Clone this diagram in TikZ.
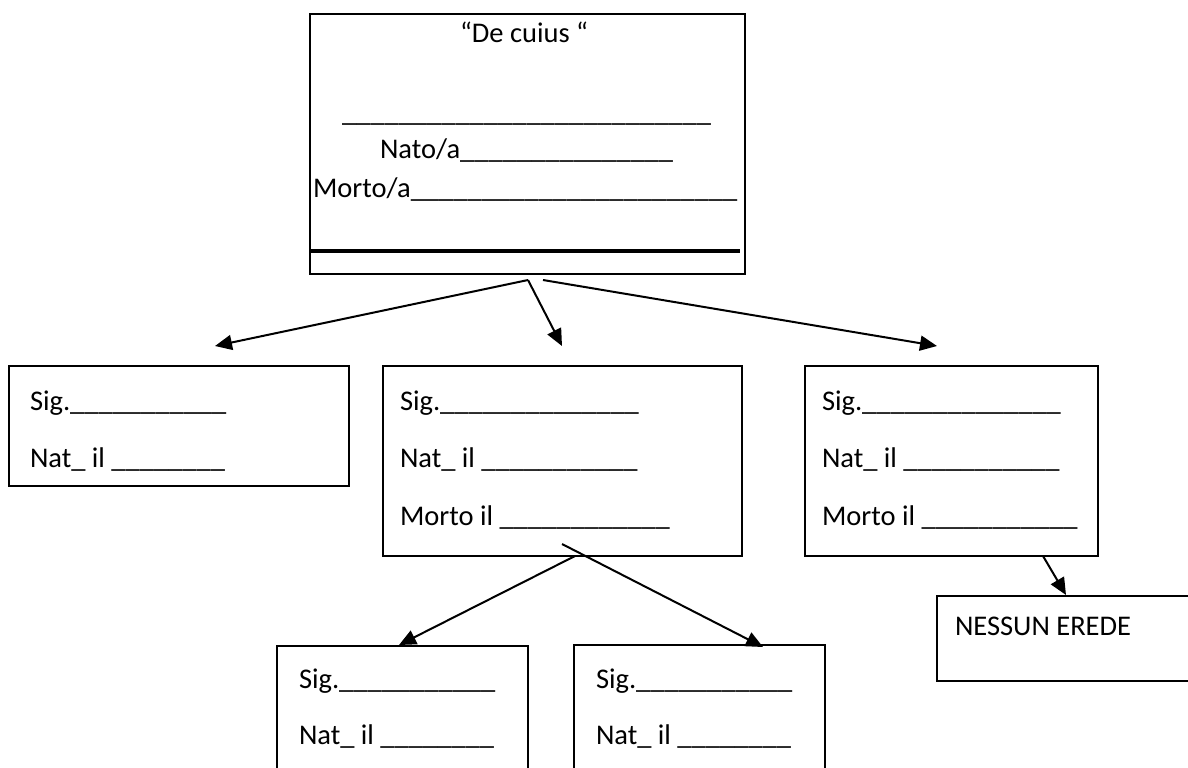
\documentclass[tikz,border=0pt]{standalone}
\usepackage{fontspec}
\setmainfont{Carlito}
\usetikzlibrary{arrows.meta}
\newcommand{\riga}[1]{\foreach \k in {1,...,#1}{\_}}

\begin{document}
\begin{tikzpicture}[x=0.5pt,y=-0.5pt]
	\tikzstyle{box}=[draw, line width=1.2pt, inner sep=0pt, outer sep=0pt, anchor=north west]
	\tikzstyle{txt}=[inner sep=0pt, outer sep=0pt, anchor=base west, font=\fontsize{14.25pt}{17pt}\selectfont]
	\tikzstyle{freccia}=[-{Triangle[length=8.5pt,width=7.5pt]}, line width=1pt]
	\useasboundingbox (0,0) rectangle (1188,767);
	\clip (0,0) rectangle (1188,767);
	\node[box, minimum width=217.5pt, minimum height=130pt] (decuius) at (310,14) {};
	\draw[line width=2pt] ([yshift=-118.5pt]decuius.north west) -- ([xshift=-2.5pt,yshift=-118.5pt]decuius.north east);
	\node[txt] (titolo) at (460,42) {“De cuius “};
	\node[txt] (nome) at (342,121) {\riga{26}};
	\node[txt] (nato) at (380,158) {Nato/a\riga{15}};
	\node[txt] (morto) at (313,197) {Morto/a\riga{23}};
	\node[box, minimum width=170pt, minimum height=60pt] (figlio1) at (9,366) {};
	\node[txt] (sig1) at (30,410) {Sig.\riga{11}};
	\node[txt] (nat1) at (30,467) {Nat\_ il \riga{8}};
	\node[box, minimum width=179.5pt, minimum height=95pt] (figlio2) at (383,366) {};
	\node[txt] (sig2) at (400,410) {Sig.\riga{14}};
	\node[txt] (nat2) at (400,467) {Nat\_ il \riga{11}};
	\node[txt] (mor2) at (400,525) {Morto il \riga{12}};
	\node[box, minimum width=146.5pt, minimum height=95pt] (figlio3) at (805,366) {};
	\node[txt] (sig3) at (822,410) {Sig.\riga{14}};
	\node[txt] (nat3) at (822,467) {Nat\_ il \riga{11}};
	\node[txt] (mor3) at (822,525) {Morto il \riga{11}};
	\node[box, minimum width=131.5pt, minimum height=42.5pt] (nessuno) at (937,596) {};
	\node[txt] (erede) at (955,635) {NESSUN EREDE};
	\node[box, minimum width=125.5pt, minimum height=70pt] (nipote1) at (277,646) {};
	\node[txt] (sig4) at (299,688) {Sig.\riga{11}};
	\node[txt] (nat4) at (299,744) {Nat\_ il \riga{8}};
	\node[box, minimum width=125.5pt, minimum height=70pt] (nipote2) at (574,645) {};
	\node[txt] (sig5) at (596,688) {Sig.\riga{11}};
	\node[txt] (nat5) at (596,744) {Nat\_ il \riga{8}};
	\coordinate (da1) at (528,280);
	\coordinate (da2) at (543,280);
	\coordinate (a1) at (215,346);
	\coordinate (a2) at (562,346);
	\coordinate (a3) at (937,346);
	\coordinate (da3) at (575,556);
	\coordinate (da4) at (562,544);
	\coordinate (a4) at (399,645);
	\coordinate (a5) at (763,647);
	\coordinate (da5) at (1043,556);
	\coordinate (a6) at (1066,595);
	\draw[freccia] (da1) -- (a1);
	\draw[freccia] (da1) -- (a2);
	\draw[freccia] (da2) -- (a3);
	\draw[freccia] (da3) -- (a4);
	\draw[freccia] (da4) -- (a5);
	\draw[freccia] (da5) -- (a6);
\end{tikzpicture}
\end{document}
